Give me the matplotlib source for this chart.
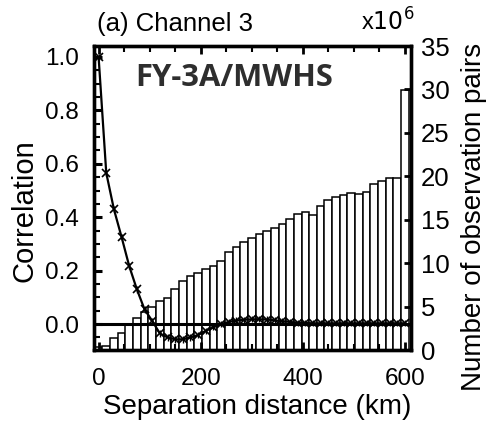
import numpy as np
import matplotlib
matplotlib.use("Agg")
import matplotlib.pyplot as plt
from matplotlib.ticker import MultipleLocator, FormatStrFormatter

plt.rcParams['font.family'] = ['Liberation Sans', 'DejaVu Sans']

# Separation-distance bins (km)
distance_km = [0, 15, 30, 45, 60, 75, 90, 105, 120, 135, 150, 165, 180, 195,
               210, 225, 240, 255, 270, 285, 300, 315, 330, 345, 360, 375,
               390, 405, 420, 435, 450, 465, 480, 495, 510, 525, 540, 555,
               570, 585, 600]

# Spatial correlation of O-B departures
correlation = [1.0, 0.566, 0.43, 0.326, 0.217, 0.13, 0.055, 0.012, -0.035,
               -0.05, -0.057, -0.057, -0.05, -0.041, -0.025, -0.012, 0.0,
               0.008, 0.013, 0.016, 0.018, 0.018, 0.017, 0.014, 0.011, 0.008,
               0.005, 0.004, 0.003, 0.003, 0.003, 0.003, 0.003, 0.003, 0.003,
               0.003, 0.003, 0.003, 0.003, 0.003, 0.003]

# Number of observation pairs per bin (x10^6)
pairs_million = [0.3, 0.5, 1.4, 2.0, 3.0, 3.7, 4.4, 5.0, 5.6, 6.0, 7.0, 7.9,
                 8.5, 8.9, 9.3, 9.7, 10.3, 11.3, 11.9, 12.4, 12.9, 13.3, 13.7,
                 14.1, 14.5, 15.1, 15.7, 15.9, 15.6, 16.6, 17.3, 17.6, 17.9,
                 18.1, 17.95, 18.2, 19.1, 19.5, 19.8, 19.8, 29.9]

corr_err = [0.012] * len(distance_km)

W, H = 487, 433
fig = plt.figure(figsize=(W / 100, H / 100), dpi=100)
ax = fig.add_axes([94 / W, 1 - 350 / H, (411 - 94) / W, (350 - 46) / H])
ax2 = ax.twinx()

# Histogram of pair counts on the right axis
ax2.bar(distance_km, pairs_million, width=15, color='white',
        edgecolor='black', linewidth=1.1, zorder=1)
ax2.set_ylim(0, 35)
ax2.yaxis.set_major_locator(MultipleLocator(5))

# Correlation curve on the left axis, drawn above the bars
ax.set_zorder(ax2.get_zorder() + 1)
ax.patch.set_visible(False)
ax.axhline(0, color='black', linewidth=2.2, zorder=2)
ax.errorbar(distance_km, correlation, yerr=corr_err, color='black',
            linewidth=1.6, elinewidth=1.0, capsize=0, marker='x',
            markersize=6, markeredgewidth=1.2, zorder=3)

ax.set_xlim(-9, 612)
ax.set_ylim(-0.097, 1.041)
ax.xaxis.set_major_locator(MultipleLocator(200))
ax.xaxis.set_minor_locator(MultipleLocator(50))
ax.yaxis.set_major_locator(MultipleLocator(0.2))
ax.yaxis.set_minor_locator(MultipleLocator(0.05))
ax.yaxis.set_major_formatter(FormatStrFormatter('%.1f'))

ax.tick_params(axis='both', which='both', direction='in', width=1.5)
ax.tick_params(axis='x', which='both', top=True)
ax.tick_params(axis='y', which='major', length=6, width=2.2,
               labelsize=17.5, pad=11)
ax.tick_params(axis='y', which='minor', length=4)
ax.tick_params(axis='x', which='major', length=6, width=2.0,
               labelsize=17.5, pad=13)
ax.tick_params(axis='x', which='minor', length=4)
ax2.tick_params(axis='y', direction='in', labelsize=18.5, length=5,
                width=2.0, pad=7)

for a in (ax, ax2):
    for s in a.spines.values():
        s.set_linewidth(2.4)

ax.set_ylabel('Correlation', fontsize=21, labelpad=4.5, y=0.457)
ax.set_xlabel('Separation distance (km)', fontsize=20, labelpad=3, x=0.516)
ax2.set_ylabel('Number of observation pairs', fontsize=20, labelpad=8.3,
               y=0.4375)

fig.text(97 / W, 1 - 24 / H, '(a) Channel 3', fontsize=18.5, ha='left',
         va='center')
fig.text(414 / W, 1 - 22 / H, r'x$10^6$', fontsize=17, ha='right',
         va='center')
ax.text(0.13, 0.895, 'FY-3A/MWHS', transform=ax.transAxes,
        fontsize=22.3, fontweight='bold', family=['Open Sans', 'DejaVu Sans'],
        color='#2e2e2e', ha='left', va='center')

fig.savefig('out.png', dpi=100)
